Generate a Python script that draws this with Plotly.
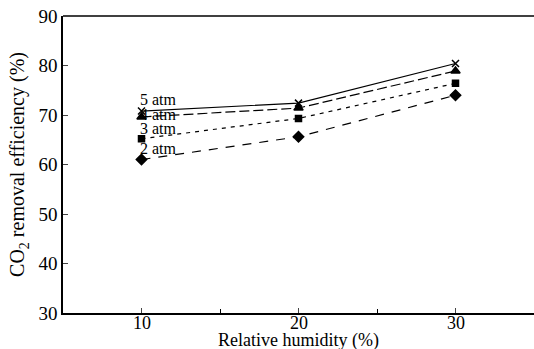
import plotly.graph_objects as go

humidity = [10, 20, 30]
eff_5atm = [70.8, 72.4, 80.4]
eff_4atm = [69.6, 71.4, 78.9]
eff_3atm = [65.2, 69.3, 76.4]
eff_2atm = [61.0, 65.6, 74.0]
labels = ["5 atm", "4 atm", "3 atm", "2 atm"]
label_y = [73.2, 70.1, 67.2, 63.3]
x_ticks = [10, 20, 30]
y_ticks = [30, 40, 50, 60, 70, 80, 90]

SERIF = "Liberation Serif, Times New Roman, serif"

styles = {
    "5 atm": ("solid", "x-thin", 7),
    "4 atm": ("10px,4px", "triangle-up", 8),
    "3 atm": ("4px,5px", "square", 6),
    "2 atm": ("9px,8px", "diamond", 8),
}

fig = go.Figure()
for name, vals, ly in zip(labels, [eff_5atm, eff_4atm, eff_3atm, eff_2atm], label_y):
    dash, sym, size = styles[name]
    fig.add_trace(go.Scatter(
        x=humidity, y=vals, mode="lines+markers", name=name,
        line=dict(color="black", width=1.2, dash=dash),
        marker=dict(symbol=sym, size=size, color="black",
                    line=dict(color="black", width=1.5)),
        showlegend=False))
    fig.add_annotation(x=humidity[0], y=ly, text=name, showarrow=False,
                       xanchor="left", xshift=-4,
                       font=dict(family=SERIF, size=16, color="black"))

fig.update_layout(
    width=534, height=349,
    margin=dict(l=63, r=0, t=16, b=36),
    paper_bgcolor="white", plot_bgcolor="white",
    font=dict(family=SERIF, size=18, color="black"),
)
fig.update_xaxes(
    range=[5, 35], tickvals=x_ticks, ticks="inside", ticklen=5,
    showticklabels=False,
    minor=dict(tickvals=[15, 25], ticks="inside", ticklen=4, tickcolor="black"),
    showline=True, linecolor="black", linewidth=1.5, mirror=False,
    showgrid=False, zeroline=False,
)
for t in x_ticks:
    fig.add_annotation(x=t, xref="x", yref="paper", y=0, yshift=-10,
                       text=str(t), showarrow=False,
                       xanchor="center", yanchor="middle",
                       font=dict(family=SERIF, size=18, color="black"))
fig.add_annotation(xref="paper", yref="paper", x=0.5, y=0, yshift=-27,
                   text="Relative humidity (%)", showarrow=False,
                   xanchor="center", yanchor="middle",
                   font=dict(family=SERIF, size=18, color="black"))
fig.update_yaxes(
    range=[30, 90], tickvals=y_ticks, ticks="inside", ticklen=5,
    showline=True, linecolor="black", linewidth=1.5,
    showgrid=False, zeroline=False,
    title=dict(text="CO<sub>2</sub> removal efficiency (%)", standoff=8,
               font=dict(family=SERIF, size=20)),
    tickfont=dict(family=SERIF, size=19),
)
fig.add_shape(type="line", xref="paper", yref="paper", x0=0, x1=1, y0=1, y1=1,
              line=dict(color="black", width=1.5))

fig.write_html("out.html")
